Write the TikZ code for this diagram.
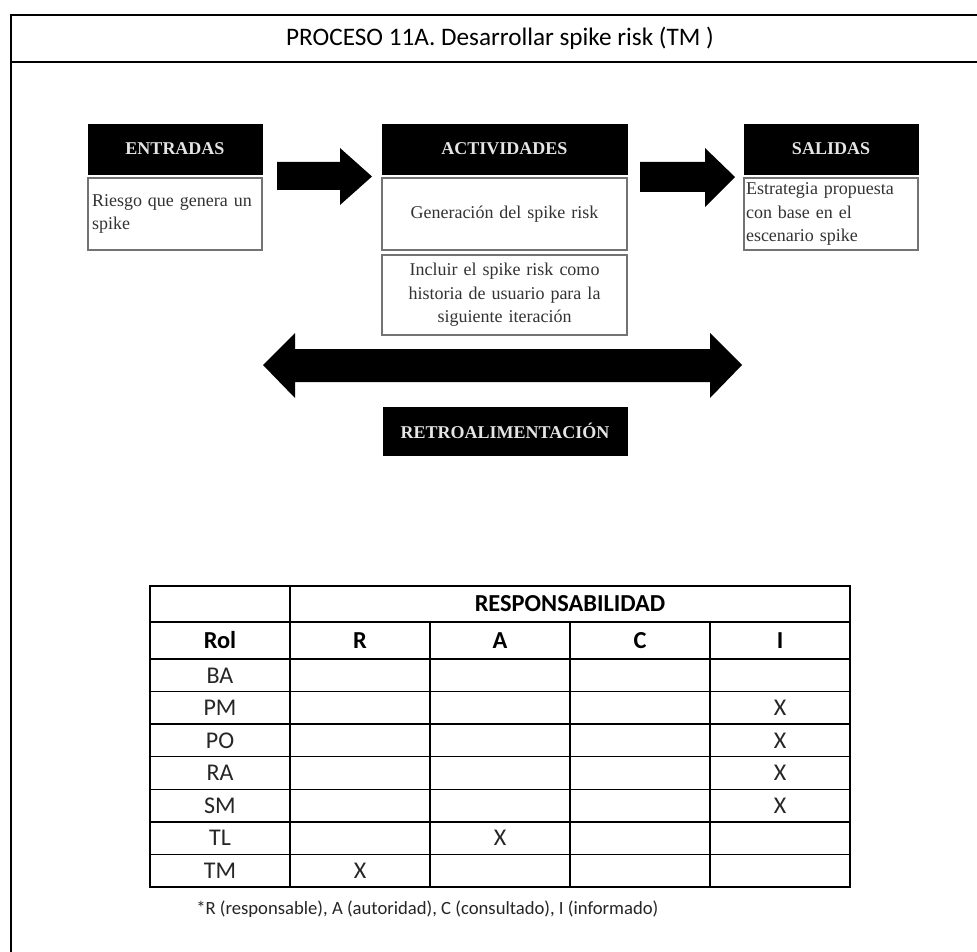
\documentclass[tikz,border=0pt]{standalone}
\usepackage{fontspec}
\setmainfont{Liberation Serif}
\newfontfamily\calibri{Carlito}

\begin{document}
\begin{tikzpicture}[x=0.75pt,y=-0.75pt,
  frame/.style={line width=2.2pt, black},
  headbox/.style={fill=black, draw=black, text=black!10, inner sep=0pt,
    font=\bfseries\fontsize{13.5}{16}\selectfont},
  bodybox/.style={draw=black!55, line width=1.4pt, fill=white, inner sep=0pt,
    text=black!80, font=\fontsize{13.5}{17.5}\selectfont},
  blockarrow/.style={fill=black},
  tbl/.style={line width=1.1pt, black},
  thead/.style={font=\calibri\bfseries\fontsize{18.3}{21}\selectfont, inner sep=0pt},
  tcell/.style={font=\calibri\fontsize{18}{21}\selectfont, inner sep=0pt, text=black!85},
]
\useasboundingbox (0,0) rectangle (977,952);
\fill[white] (0,0) rectangle (977,952);

% outer frame and title band
\draw[frame] (11,952) -- (11,15) -- (977,15);
\draw[frame] (11,62) -- (977,62);
\node[font=\calibri\fontsize{18.9}{22}\selectfont, inner sep=0pt] (title) at (500,38)
  {PROCESO 11A. Desarrollar spike risk (TM )};

% inputs
\node[headbox, minimum width=174*0.75pt, minimum height=50*0.75pt] (entH) at (175,149) {ENTRADAS};
\node[bodybox, minimum width=174*0.75pt, minimum height=72*0.75pt,
  text width=166*0.75pt, align=left] (entB) at (175,214) {Riesgo que genera un\\spike};

% activities
\node[headbox, minimum width=245*0.75pt, minimum height=50*0.75pt] (actH) at (504.5,149) {ACTIVIDADES};
\node[bodybox, minimum width=245*0.75pt, minimum height=72*0.75pt,
  text width=235*0.75pt, align=center] (act1) at (504.5,214) {Generación del spike risk};
\node[bodybox, minimum width=245*0.75pt, minimum height=80*0.75pt,
  text width=235*0.75pt, align=center] (act2) at (504.5,295)
  {Incluir el spike risk como\\historia de usuario para la\\siguiente iteración};

% outputs
\node[headbox, minimum width=174*0.75pt, minimum height=50*0.75pt] (salH) at (831,149) {SALIDAS};
\node[bodybox, minimum width=174*0.75pt, minimum height=72*0.75pt,
  text width=170*0.75pt, align=left] (salB) at (831,214)
  {Estrategia propuesta\\con base en el\\escenario spike};

% feedback label
\node[headbox, minimum width=244*0.75pt, minimum height=48*0.75pt] (retro) at (505,431) {RETROALIMENTACIÓN};

% block arrows
\fill[blockarrow] (277,162) -- (340,162) -- (340,148) -- (372,176.5) -- (340,205)
  -- (340,190) -- (277,190) -- cycle;
\fill[blockarrow] (640,162) -- (705,162) -- (705,148) -- (735,177) -- (705,207)
  -- (705,192) -- (640,192) -- cycle;
\fill[blockarrow] (263,365) -- (295,333) -- (295,349) -- (710,349) -- (710,333)
  -- (742,365) -- (710,398) -- (710,382) -- (295,382) -- (295,398) -- cycle;

% responsibility table grid
\draw[tbl] (150,586) rectangle (850,887);
\foreach \yy in {622,659,691.6,724.1,756.7,789.3,821.9,854.4}
  \draw[tbl] (150,\yy) -- (850,\yy);
\draw[tbl] (290,586) -- (290,887);
\foreach \xx in {430,570,710}
  \draw[tbl] (\xx,622) -- (\xx,887);

\node[thead] (resp) at (570,604) {RESPONSABILIDAD};
\node[thead] (hRol) at (220,640.5) {Rol};
\node[thead] (hR) at (360,640.5) {R};
\node[thead] (hA) at (500,640.5) {A};
\node[thead] (hC) at (640,640.5) {C};
\node[thead] (hI) at (780,640.5) {I};

\node[tcell] (rBA) at (220,675.3) {BA};
\node[tcell] (rPM) at (220,707.9) {PM};
\node[tcell] (rPO) at (220,740.4) {PO};
\node[tcell] (rRA) at (220,773.0) {RA};
\node[tcell] (rSM) at (220,805.6) {SM};
\node[tcell] (rTL) at (220,838.2) {TL};
\node[tcell] (rTM) at (220,870.7) {TM};

\node[tcell] (xPM) at (780,707.9) {X};
\node[tcell] (xPO) at (780,740.4) {X};
\node[tcell] (xRA) at (780,773.0) {X};
\node[tcell] (xSM) at (780,805.6) {X};
\node[tcell] (xTL) at (500,838.2) {X};
\node[tcell] (xTM) at (360,870.7) {X};

\node[font=\calibri\fontsize{14}{16}\selectfont, anchor=west, inner sep=0pt, text=black!85] (note)
  at (196,909) {*R (responsable), A (autoridad), C (consultado), I (informado)};
\end{tikzpicture}
\end{document}
